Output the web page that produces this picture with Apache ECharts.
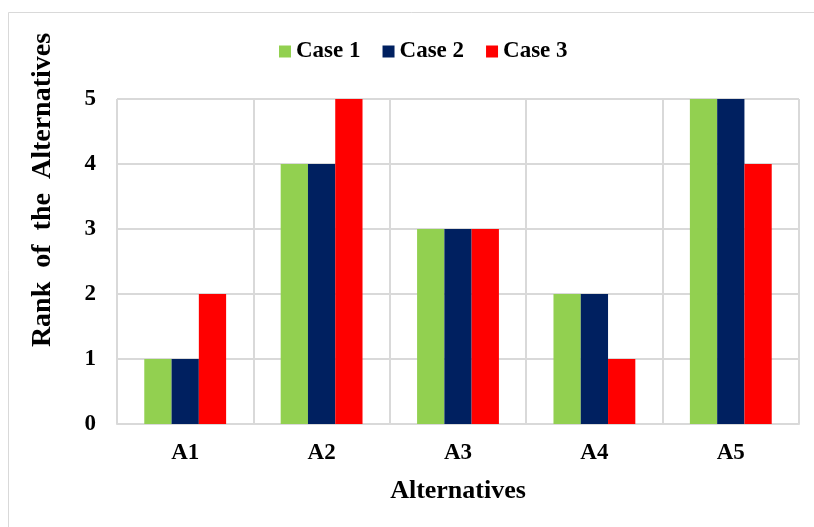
<!DOCTYPE html>
<html>
<head>
<meta charset="utf-8">
<script src="https://cdn.jsdelivr.net/npm/echarts@6/dist/echarts.min.js"></script>
<style>
  html, body { margin: 0; padding: 0; background: #fff; }
  #chart { width: 814px; height: 527px; }
</style>
</head>
<body>
<div id="chart"></div>
<script>
// Rank of each alternative under three cases
const categories = ['A1', 'A2', 'A3', 'A4', 'A5'];
const case1 = [1, 4, 3, 2, 5];
const case2 = [1, 4, 3, 2, 5];
const case3 = [2, 5, 3, 1, 4];
const seriesNames = ['Case 1', 'Case 2', 'Case 3'];
const seriesColors = ['#92d050', '#002060', '#ff0000'];
const yTicks = [0, 1, 2, 3, 4, 5];
const yTitle = 'Rank  of  the  Alternatives';

const font = '"Liberation Serif", "Times New Roman", serif';
const gridColor = '#d9d9d9';

const chart = echarts.init(document.getElementById('chart'));

const seriesData = [case1, case2, case3];

chart.setOption({
  animation: false,
  backgroundColor: '#fff',
  textStyle: { fontFamily: font },
  graphic: [{
    // outer frame of the chart area
    type: 'rect',
    shape: { x: 8.5, y: 12.5, width: 830, height: 540 },
    style: { fill: 'none', stroke: '#d9d9d9', lineWidth: 1 },
    silent: true
  }, {
    // right edge of the plot area
    type: 'line',
    shape: { x1: 799, y1: 99, x2: 799, y2: 424 },
    style: { stroke: gridColor, lineWidth: 2 },
    silent: true
  }, {
    // vertical axis title, sitting above the plot's middle
    type: 'text',
    x: 43,
    y: 190,
    rotation: Math.PI / 2,
    style: {
      text: yTitle,
      fontFamily: font,
      fontWeight: 'bold',
      fontSize: 28,
      fill: '#000',
      align: 'center',
      verticalAlign: 'middle'
    },
    silent: true
  }],
  legend: {
    top: 35,
    left: 274,
    itemWidth: 12,
    itemHeight: 12,
    itemGap: 22,
    icon: 'rect',
    textStyle: { fontFamily: font, fontWeight: 'bold', fontSize: 23, color: '#000' },
    data: seriesNames
  },
  grid: { left: 117, right: 15, top: 99, bottom: 103, containLabel: false },
  xAxis: {
    type: 'category',
    data: categories,
    name: 'Alternatives',
    nameLocation: 'middle',
    nameGap: 54,
    nameTextStyle: { fontFamily: font, fontWeight: 'bold', fontSize: 26, color: '#000' },
    axisLine: { show: true, lineStyle: { color: gridColor, width: 2 } },
    axisTick: { show: false },
    axisLabel: { fontFamily: font, fontWeight: 'bold', fontSize: 23, color: '#000', margin: 18 },
    splitLine: { show: true, lineStyle: { color: gridColor, width: 2 } }
  },
  yAxis: {
    type: 'value',
    min: 0,
    max: 5,
    interval: 1,
    axisLine: { show: false },
    axisTick: { show: false },
    axisLabel: {
      fontFamily: font, fontWeight: 'bold', fontSize: 23, color: '#000', margin: 21,
      formatter: v => (yTicks.includes(v) ? String(v) : '')
    },
    splitLine: { show: true, lineStyle: { color: gridColor, width: 2 } }
  },
  series: seriesNames.map((name, i) => ({
    name,
    type: 'bar',
    data: seriesData[i],
    barGap: '0%',
    barCategoryGap: '40%',
    itemStyle: { color: seriesColors[i] }
  }))
});
</script>
</body>
</html>
